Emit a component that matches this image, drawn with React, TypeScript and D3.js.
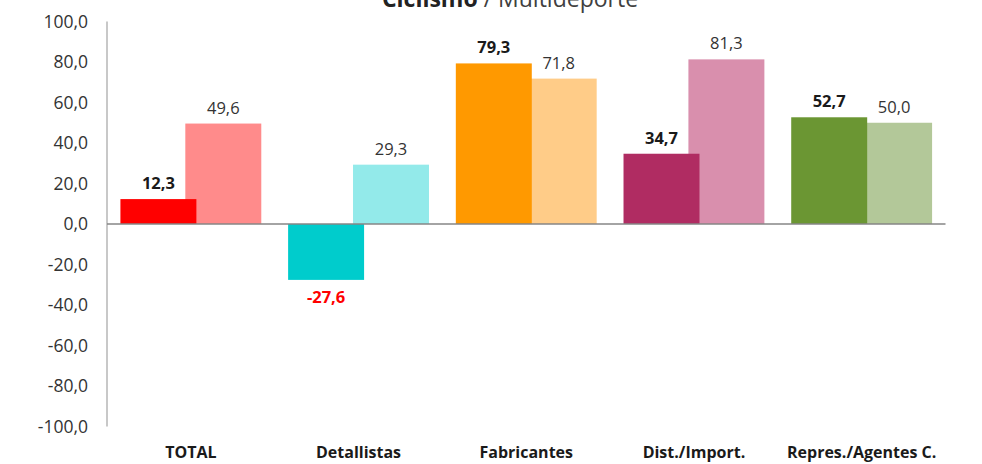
import React from "react";
import * as d3 from "d3";

const categories = ["TOTAL", "Detallistas", "Fabricantes", "Dist./Import.", "Repres./Agentes C."];
const series1 = [12.3, -27.6, 79.3, 34.7, 52.7];
const series2 = [49.6, 29.3, 71.8, 81.3, 50.0];
const colors1 = ["#FF0000", "#00CCCC", "#FF9900", "#B02C62", "#6B9633"];
const colors2 = ["#FF8B8B", "#93EAEA", "#FFCC88", "#D98FAD", "#B3C899"];
const yTicks = [100, 80, 60, 40, 20, 0, -20, -40, -60, -80, -100];

const W = 982;
const H = 464;
const fmt = (v: number) => v.toFixed(1).replace(".", ",");

export default function App() {
  const x = d3.scaleBand<string>().domain(categories).range([107, 945.5]).paddingInner(0).paddingOuter(0);
  const y = d3.scaleLinear().domain([-100, 100]).range([426.5, 21.5]);
  const bw = x.bandwidth();
  const barW = bw * 0.453;
  const ov = bw * 0.066;
  const font = "'Open Sans', 'DejaVu Sans', sans-serif";

  return (
    <svg width={W} height={H} style={{ position: "absolute", left: 0, top: 0 }}>
      <rect width={W} height={H} fill="#fff" />
      <text x={510} y={7} textAnchor="middle" fontFamily={font} fontSize={23} fill="#404040">
        <tspan fontWeight="bold" fill="#222">Ciclismo</tspan>
        <tspan> / Multideporte</tspan>
      </text>
      {yTicks.map((t) => (
        <text key={t} x={88} y={y(t)} dy="0.35em" textAnchor="end" fontFamily={font} fontSize={17.5} fill="#333">
          {fmt(t)}
        </text>
      ))}
      <line x1={107} x2={107} y1={y(100)} y2={y(-100)} stroke="#C8C8C8" strokeWidth={2} />
      {categories.map((c, i) => {
        const cx = (x(c) as number) + bw / 2;
        const x1 = cx - barW + ov / 2;
        const x2 = cx - ov / 2;
        const v1 = series1[i];
        const v2 = series2[i];
        return (
          <g key={c}>
            <rect x={x2} width={barW} y={Math.min(y(v2), y(0))} height={Math.abs(y(v2) - y(0))} fill={colors2[i]} />
            <rect x={x1} width={barW} y={Math.min(y(v1), y(0))} height={Math.abs(y(v1) - y(0))} fill={colors1[i]} />
            <text
              x={x1 + barW / 2}
              y={v1 >= 0 ? y(v1) - 10 : y(v1) + 23}
              textAnchor="middle"
              fontFamily={font}
              fontSize={16.5}
              fontWeight="bold"
              fill={v1 < 0 ? "#FF0000" : "#1a1a1a"}
            >
              {fmt(v1)}
            </text>
            <text x={x2 + barW / 2} y={v2 >= 0 ? y(v2) - 10 : y(v2) + 23} textAnchor="middle" fontFamily={font} fontSize={16.5} fill="#333">
              {fmt(v2)}
            </text>
            <text x={cx} y={458} textAnchor="middle" fontFamily={font} fontSize={16} fontWeight="bold" fill="#1a1a1a">
              {c}
            </text>
          </g>
        );
      })}
      <line x1={107} x2={945.5} y1={y(0)} y2={y(0)} stroke="#868686" strokeWidth={1.5} />
    </svg>
  );
}
